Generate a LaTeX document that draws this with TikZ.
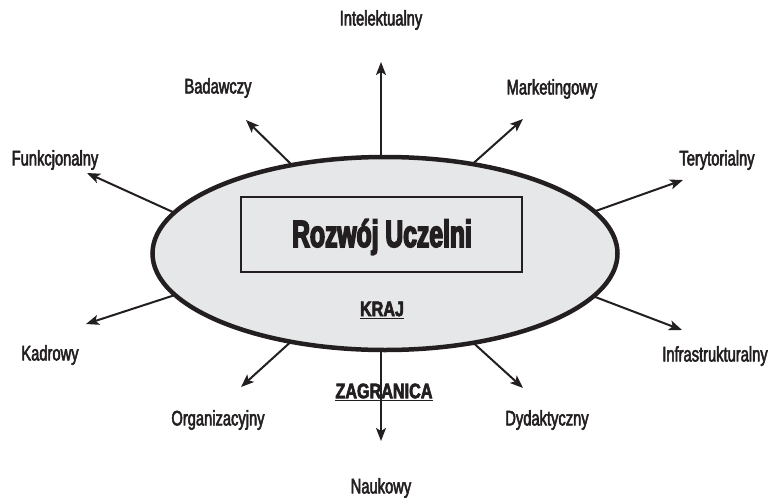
\documentclass[tikz,border=0pt]{standalone}
\usepackage{fontspec}
\usetikzlibrary{shapes.geometric,arrows.meta}
\newfontfamily\labfont[FakeStretch=0.7,FakeBold=2.5]{Liberation Sans}
\newfontfamily\ttlfont[FakeStretch=0.65,FakeBold=4]{Liberation Sans Bold}
\newfontfamily\subfont[FakeStretch=0.77,FakeBold=3]{Liberation Sans Bold}
\definecolor{ellfill}{HTML}{E6E7E8}
\definecolor{ink}{HTML}{231F20}
\begin{document}
\begin{tikzpicture}[x=1pt,y=-1pt,
  lab/.style={font=\labfont\fontsize{21}{24}\selectfont, text=ink, inner sep=0pt},
  arr/.style={draw=ink, line width=2pt, -{Stealth[length=13pt,width=10pt,inset=3pt]}},
  bigttl/.style={font=\ttlfont\fontsize{38}{42}\selectfont, text=ink, inner sep=0pt},
  subttl/.style={font=\subfont\fontsize{21}{24}\selectfont, text=ink, inner sep=0pt}]
\useasboundingbox (0,0) rectangle (773,500);
% labels
\node[lab] (lInt) at (381,20) {Intelektualny};
\node[lab] (lBad) at (218,88) {Badawczy};
\node[lab] (lMar) at (552,89) {Marketingowy};
\node[lab] (lFun) at (55,160) {Funkcjonalny};
\node[lab] (lTer) at (717,160) {Terytorialny};
\node[lab] (lKad) at (50,355) {Kadrowy};
\node[lab] (lInf) at (715,356) {Infrastrukturalny};
\node[lab] (lOrg) at (218,420) {Organizacyjny};
\node[lab] (lDyd) at (547,420) {Dydaktyczny};
\node[lab] (lNau) at (381,488) {Naukowy};
% arrow ends
\coordinate (sInt) at (381,170); \coordinate (tInt) at (381,62);
\coordinate (sBad) at (295,168); \coordinate (tBad) at (246,120);
\coordinate (sMar) at (468,168); \coordinate (tMar) at (523,119);
\coordinate (sFun) at (175,213); \coordinate (tFun) at (87,173);
\coordinate (sTer) at (590,213); \coordinate (tTer) at (683,180);
\coordinate (sKad) at (175,295); \coordinate (tKad) at (86,324);
\coordinate (sInf) at (590,295); \coordinate (tInf) at (682,330);
\coordinate (sOrg) at (295,338); \coordinate (tOrg) at (241,387);
\coordinate (sDyd) at (468,338); \coordinate (tDyd) at (523,388);
\coordinate (sNau) at (381,340); \coordinate (tNau) at (381,441);
\foreach \n in {Int,Bad,Mar,Fun,Ter,Kad,Inf,Org,Dyd,Nau}
  \draw[arr] (s\n) -- (t\n);
% ellipse
\node[ellipse, draw=ink, line width=4.5pt, fill=ellfill, minimum width=465pt, minimum height=193pt, inner sep=0pt] (ell) at (385,253.5) {};
\node[draw=ink, line width=2pt, minimum width=281pt, minimum height=75pt, inner sep=0pt] (box) at (381.5,234.5) {};
\node[bigttl] (ttl) at (382,237) {Rozwój Uczelni};
\node[subttl] (kraj) at (382,310) {\underline{KRAJ}};
\node[subttl] (zagr) at (384,392) {\underline{ZAGRANICA}};
\end{tikzpicture}
\end{document}
